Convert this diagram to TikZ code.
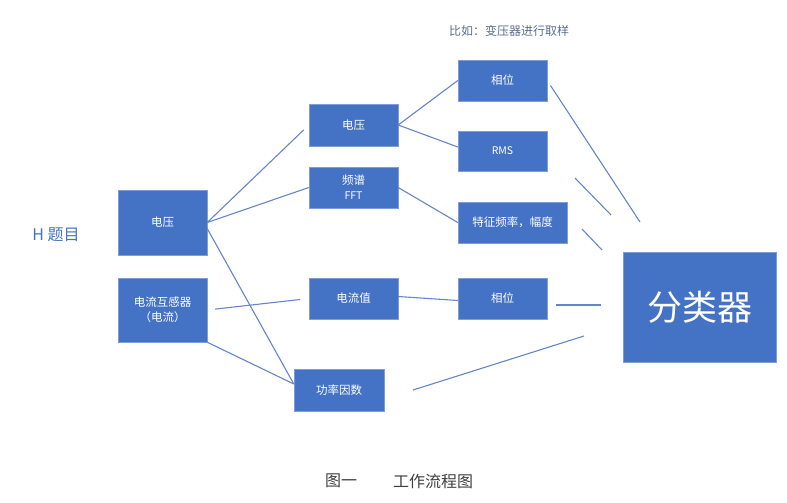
\documentclass[tikz,border=0pt]{standalone}
\usepackage{fontspec}
\setmainfont{Noto Sans CJK SC}
\usetikzlibrary{positioning}
\definecolor{boxblue}{HTML}{4472C4}
\definecolor{boxedge}{HTML}{7F9DD6}
\definecolor{wireblue}{HTML}{6685C8}
\definecolor{notegray}{HTML}{5C6E8E}
\definecolor{capgray}{HTML}{404040}
\tikzset{
  blk/.style={
    draw=boxedge, fill=boxblue, rectangle, align=center, inner sep=2pt,
    text=white, font=\fontsize{11.5}{15}\selectfont,
    minimum width=89pt, minimum height=41pt
  },
  big/.style={
    blk, minimum width=153pt, minimum height=110pt,
    font=\fontsize{35}{40}\selectfont
  },
  wire/.style={draw=wireblue, line width=1.1pt},
  note/.style={text=notegray, font=\fontsize{12}{14}\selectfont, inner sep=0pt},
}

\begin{document}
\begin{tikzpicture}[x=1pt, y=-1pt]
  \useasboundingbox (0,0) rectangle (787,503);
  % inputs
  \node[blk, minimum height=65pt] (vin) at (162.5,222.5) {电压};
  \node[blk, minimum height=64pt] (cin) at (162.5,310) {电流互感器\\（电流）};
  % middle column
  \node[blk, minimum height=42pt] (vmid) at (353.5,125) {电压};
  \node[blk] (fft) at (353.5,187.5) {频谱\\{\fontsize{10.5}{13}\selectfont FFT}};
  \node[blk] (ival) at (353.5,298.5) {电流值};
  \node[blk, minimum width=90pt, minimum height=42pt] (pf) at (339,390) {功率因数};
  % features
  \node[blk] (ph) at (502.5,80.5) {相位};
  \node[blk, minimum height=40pt] (rms) at (502.5,151) {\fontsize{10.5}{13}\selectfont RMS};
  \node[blk, minimum width=109pt] (feat) at (512.5,222.5) {特征频率，幅度};
  \node[blk] (phi) at (502.5,298.5) {相位};
  \node[big] (cls) at (699.5,307) {分类器};
  % texts
  \node[note] (hint) at (509,31) {比如：变压器进行取样};
  \node[text=boxblue, font=\fontsize{16}{18}\selectfont, inner sep=0pt] (title) at (56,235) {H 题目};
  \node[text=capgray, font=\fontsize{16}{18}\selectfont, inner sep=0pt] (fig) at (341,481) {图一};
  \node[text=capgray, font=\fontsize{16}{18}\selectfont, inner sep=0pt] (cap) at (433,481) {工作流程图};
  % free ends in front of the classifier
  \coordinate (k1) at (640,222);
  \coordinate (k2a) at (575,178);
  \coordinate (k2) at (611,215);
  \coordinate (k3a) at (582,229);
  \coordinate (k3) at (602,250);
  \coordinate (k4a) at (556,305);
  \coordinate (k4) at (601,305);
  \coordinate (k5a) at (413,390);
  \coordinate (k5) at (584,336);
  % wires
  \draw[wire, shorten >=7pt] (vin.east) -- (vmid.west);
  \draw[wire] (vin.east) -- (fft.west);
  \draw[wire] ([yshift=-6pt]vin.east) -- ([yshift=6pt]pf.west);
  \draw[wire, shorten <=8pt, shorten >=9pt] (cin.east) -- (ival.west);
  \draw[wire] (cin.south east) -- ([yshift=6pt]pf.west);
  \draw[wire] (vmid.east) -- (ph.west);
  \draw[wire] (vmid.east) -- ([yshift=4pt]rms.west);
  \draw[wire] (fft.east) -- (feat.west);
  \draw[wire] ([yshift=2pt]ival.east) -- ([yshift=-2pt]phi.west);
  \draw[wire, shorten <=6pt] (ph.east) -- (k1);
  \draw[wire] (k2a) -- (k2);
  \draw[wire] (k3a) -- (k3);
  \draw[wire] (k4a) -- (k4);
  \draw[wire] (k5a) -- (k5);
\end{tikzpicture}
\end{document}
